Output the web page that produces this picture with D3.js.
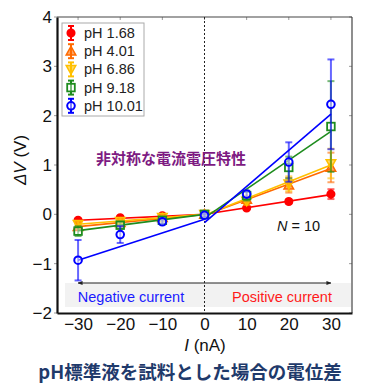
<!DOCTYPE html>
<html><head><meta charset="utf-8">
<script src="https://cdn.jsdelivr.net/npm/d3@7"></script>
<style>body{margin:0;background:#fff}svg{display:block}</style>
</head><body><svg id="c" width="372" height="385"></svg>
<script>
const currents = [-30, -20, -10, 0, 10, 20, 30];
const seriesNames = ["pH 1.68", "pH 4.01", "pH 6.86", "pH 9.18", "pH 10.01"];
const vRed    = [-0.12, -0.07, -0.03, 0.00, 0.13, 0.26, 0.41];
const vOrange = [-0.25, -0.17, -0.07, 0.00, 0.30, 0.59, 0.95];
const vYellow = [-0.20, -0.14, -0.06, 0.00, 0.27, 0.62, 1.03];
const vGreen  = [-0.34, -0.22, -0.12, 0.00, 0.38, 0.95, 1.78];
const vBlue   = [-0.93, -0.41, -0.15, -0.02, 0.41, 1.06, 2.23];
const eRed    = [0.03, 0.03, 0.02, 0.02, 0.03, 0.04, 0.10];
const eOrange = [0.05, 0.04, 0.03, 0.02, 0.08, 0.15, 0.30];
const eYellow = [0.05, 0.04, 0.03, 0.02, 0.08, 0.15, 0.30];
const eGreen  = [0.10, 0.06, 0.04, 0.02, 0.10, 0.22, 0.92];
const eBlue   = [0.41, 0.17, 0.05, 0.03, 0.06, 0.40, 0.91];
// linear-fit endpoints: [V at -30, V at 0] and [V at 0, V at 30]
const fitNeg = [[-0.12, 0.00], [-0.25, 0.00], [-0.20, 0.00], [-0.33, 0.00], [-0.93, -0.10]];
const fitPos = [[0.00, 0.40], [-0.02, 0.93], [-0.02, 1.00], [-0.07, 1.68], [-0.17, 2.03]];
const xTicks = [-30, -20, -10, 0, 10, 20, 30];
const yTicks = [-2, -1, 0, 1, 2, 3, 4];

const colors = ["#ff0000", "#ff6a00", "#ffc000", "#1e8c1e", "#0000ff"];
const shapes = ["circleF", "triUp", "triDown", "square", "circleO"];
const values = [vRed, vOrange, vYellow, vGreen, vBlue];
const errs = [eRed, eOrange, eYellow, eGreen, eBlue];

const svg = d3.select("#c");
const L = 57, R = 352, T = 17, B = 313;
const x = d3.scaleLinear().domain([-35, 35]).range([L, R]);
const y = d3.scaleLinear().domain([-2, 4]).range([B, T]);
const font = "Liberation Sans, Arial, sans-serif";

// bottom gray band
svg.append("rect").attr("x", 65).attr("y", 283).attr("width", R - 65 - 1).attr("height", 24).attr("fill", "#f2f2f2");

// inner ticks
const tg = svg.append("g").attr("stroke", "#999").attr("stroke-width", 1);
xTicks.forEach(t => {
  tg.append("line").attr("x1", x(t)).attr("x2", x(t)).attr("y1", T).attr("y2", T + 3);
});
yTicks.forEach(t => {
  tg.append("line").attr("x1", R).attr("x2", R - 3).attr("y1", y(t)).attr("y2", y(t));
  tg.append("line").attr("x1", L - 3).attr("x2", L).attr("y1", y(t)).attr("y2", y(t));
});

// frame
svg.append("line").attr("x1", L).attr("x2", R).attr("y1", T).attr("y2", T).attr("stroke", "#444").attr("stroke-width", 1.2);
svg.append("line").attr("x1", R).attr("x2", R).attr("y1", T).attr("y2", B).attr("stroke", "#444").attr("stroke-width", 1.2);

// zero dashed line
svg.append("line").attr("x1", x(0)).attr("x2", x(0)).attr("y1", T).attr("y2", B)
  .attr("stroke", "#222").attr("stroke-width", 1).attr("stroke-dasharray", "2,2");

// arrow line
const defs = svg.append("defs");
defs.append("marker").attr("id", "ah").attr("viewBox", "0 0 10 10").attr("refX", 9).attr("refY", 5)
  .attr("markerWidth", 5).attr("markerHeight", 5).attr("orient", "auto-start-reverse")
  .append("path").attr("d", "M0,1L10,5L0,9z").attr("fill", "#222");
svg.append("line").attr("x1", x(-30)).attr("x2", x(30)).attr("y1", 283).attr("y2", 283)
  .attr("stroke", "#222").attr("stroke-width", 1)
  .attr("marker-start", "url(#ah)").attr("marker-end", "url(#ah)");

svg.append("text").attr("x", 131).attr("y", 302).attr("text-anchor", "middle")
  .attr("font-family", font).attr("font-size", 14.5).attr("fill", "#1a1aff").text("Negative current");
svg.append("text").attr("x", 282).attr("y", 302).attr("text-anchor", "middle")
  .attr("font-family", font).attr("font-size", 14.5).attr("fill", "#ff1a1a").text("Positive current");

// marker drawing
function drawMarker(g, shape, cx, cy, col) {
  const s = 3.8;
  if (shape === "circleF") {
    g.append("circle").attr("cx", cx).attr("cy", cy).attr("r", s).attr("fill", col).attr("stroke", col).attr("stroke-width", 1.5);
  } else if (shape === "circleO") {
    g.append("circle").attr("cx", cx).attr("cy", cy).attr("r", s).attr("fill", "rgba(255,255,255,0.5)").attr("stroke", col).attr("stroke-width", 2);
  } else if (shape === "square") {
    g.append("rect").attr("x", cx - s).attr("y", cy - s).attr("width", 2 * s).attr("height", 2 * s)
      .attr("fill", "rgba(255,255,255,0.4)").attr("stroke", col).attr("stroke-width", 1.8);
  } else if (shape === "triUp") {
    g.append("path").attr("d", `M${cx},${cy - s - 1}L${cx + s + 1},${cy + s}L${cx - s - 1},${cy + s}Z`)
      .attr("fill", col).attr("fill-opacity", 0.6).attr("stroke", col).attr("stroke-width", 1.5);
  } else if (shape === "triDown") {
    g.append("path").attr("d", `M${cx},${cy + s + 1}L${cx + s + 1},${cy - s}L${cx - s - 1},${cy - s}Z`)
      .attr("fill", col).attr("fill-opacity", 0.6).attr("stroke", col).attr("stroke-width", 1.5);
  }
}
function drawErr(g, cx, v, e, col) {
  const y1 = y(v + e), y2 = y(v - e);
  const eg = g.append("g").attr("stroke", col).attr("stroke-opacity", 0.6).attr("stroke-width", 2);
  eg.append("line").attr("x1", cx).attr("x2", cx).attr("y1", y1).attr("y2", y2);
  eg.append("line").attr("x1", cx - 3.5).attr("x2", cx + 3.5).attr("y1", y1).attr("y2", y1);
  eg.append("line").attr("x1", cx - 3.5).attr("x2", cx + 3.5).attr("y1", y2).attr("y2", y2);
}

// series
values.forEach((vals, i) => {
  const g = svg.append("g");
  const col = colors[i];
  vals.forEach((v, j) => drawErr(g, x(currents[j]), v, errs[i][j], col));
  g.append("line").attr("x1", x(-30)).attr("x2", x(0)).attr("y1", y(fitNeg[i][0])).attr("y2", y(fitNeg[i][1]))
    .attr("stroke", col).attr("stroke-width", 1.6);
  g.append("line").attr("x1", x(0)).attr("x2", x(30)).attr("y1", y(fitPos[i][0])).attr("y2", y(fitPos[i][1]))
    .attr("stroke", col).attr("stroke-width", 1.6);
  vals.forEach((v, j) => drawMarker(g, shapes[i], x(currents[j]), y(v), col));
});

// axes
const xa = svg.append("g").attr("transform", `translate(0,${B})`)
  .call(d3.axisBottom(x).tickValues(xTicks).tickSize(0).tickPadding(5).tickFormat(d => d < 0 ? "\u2212" + Math.abs(d) : d));
const ya = svg.append("g").attr("transform", `translate(${L},0)`)
  .call(d3.axisLeft(y).tickValues(yTicks).tickSize(0).tickPadding(5).tickFormat(d => d < 0 ? "\u2212" + Math.abs(d) : d));
[xa, ya].forEach(a => {
  a.select(".domain").attr("stroke", "#111").attr("stroke-width", 2.2);
  a.selectAll("text").attr("font-family", font).attr("font-size", 17).attr("fill", "#111");
});

// N = 10
const nt = svg.append("text").attr("x", 277).attr("y", 231).attr("font-family", font).attr("font-size", 14.5).attr("fill", "#111");
nt.append("tspan").attr("font-style", "italic").text("N");
nt.append("tspan").text(" = 10");

// annotation
svg.append("text").attr("x", 96).attr("y", 164).attr("font-family", "Noto Sans CJK JP, sans-serif")
  .attr("font-weight", "bold").attr("font-size", 15).attr("fill", "#7d1a82").text("非対称な電流電圧特性");

// legend
const lg = svg.append("g");
lg.append("rect").attr("x", 62).attr("y", 23).attr("width", 82).attr("height", 93)
  .attr("fill", "#fff").attr("stroke", "#aaa").attr("stroke-width", 1);
seriesNames.forEach((n, i) => {
  const cy = 33 + i * 18.2;
  const g = lg.append("g");
  const eg = g.append("g").attr("stroke", colors[i]).attr("stroke-width", 2);
  eg.append("line").attr("x1", 71).attr("x2", 71).attr("y1", cy - 7).attr("y2", cy + 7);
  eg.append("line").attr("x1", 68).attr("x2", 74).attr("y1", cy - 7).attr("y2", cy - 7);
  eg.append("line").attr("x1", 68).attr("x2", 74).attr("y1", cy + 7).attr("y2", cy + 7);
  drawMarker(g, shapes[i], 71, cy, colors[i]);
  lg.append("text").attr("x", 84).attr("y", cy + 5).attr("font-family", font).attr("font-size", 14.5)
    .attr("fill", "#222").text(n);
});

// axis labels
const xl = svg.append("text").attr("x", 205).attr("y", 351).attr("text-anchor", "middle")
  .attr("font-family", font).attr("font-size", 17).attr("fill", "#111");
xl.append("tspan").attr("font-style", "italic").text("I");
xl.append("tspan").text(" (nA)");
const yl = svg.append("text").attr("transform", "translate(26,160) rotate(-90)").attr("text-anchor", "middle")
  .attr("font-family", font).attr("font-size", 17).attr("fill", "#111");
yl.append("tspan").attr("font-style", "italic").text("ΔV");
yl.append("tspan").text(" (V)");

// title
svg.append("text").attr("x", 190).attr("y", 379).attr("text-anchor", "middle")
  .attr("font-family", "Noto Sans CJK JP, sans-serif").attr("font-weight", "bold").attr("font-size", 18.5)
  .attr("fill", "#1f3a6b").text("pH標準液を試料とした場合の電位差");
</script></body></html>
